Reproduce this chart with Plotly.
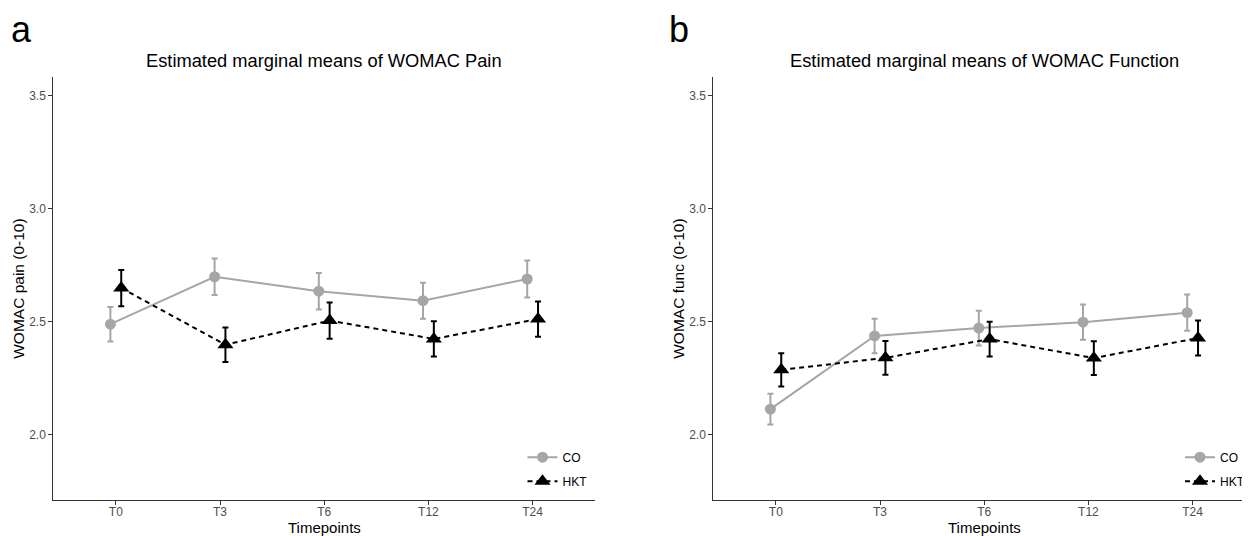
import plotly.graph_objects as go

# ---- data ----
categories = ["T0", "T3", "T6", "T12", "T24"]
groups = ["CO", "HKT"]

pain_co = [2.490, 2.700, 2.636, 2.594, 2.690]
pain_co_se = [0.076, 0.081, 0.081, 0.080, 0.082]
pain_hkt = [2.650, 2.399, 2.506, 2.425, 2.513]
pain_hkt_se = [0.080, 0.076, 0.080, 0.078, 0.078]

func_co = [2.114, 2.438, 2.473, 2.499, 2.541]
func_co_se = [0.068, 0.076, 0.077, 0.078, 0.080]
func_hkt = [2.288, 2.341, 2.424, 2.340, 2.429]
func_hkt_se = [0.074, 0.075, 0.077, 0.075, 0.077]

y_ticks = [2.0, 2.5, 3.0, 3.5]
y_tick_labels = ["2.0", "2.5", "3.0", "3.5"]

panel_titles = ["Estimated marginal means of WOMAC Pain",
                "Estimated marginal means of WOMAC Function"]
y_titles = ["WOMAC pain (0-10)", "WOMAC func (0-10)"]
x_title = "Timepoints"
panel_letters = ["a", "b"]

# ---- styling / geometry (window pixels; page body has an 8px margin) ----
OFF = 8
WIN_W, WIN_H = 1250, 536
W, H = WIN_W - OFF, WIN_H - OFF
FONT = "Liberation Sans, Arial, sans-serif"
GREY = "#A6A6A6"
BLACK = "#000000"
DODGE = 0.052
pos = list(range(1, len(categories) + 1))
px_per_unit = 104.2


def fx(px):
    return (px - OFF) / W


def fy(py):
    return 1 - (py - OFF) / H


fig = go.Figure()


def add_panel(idx, co, co_se, hkt, hkt_se):
    xa = "x" if idx == 0 else "x2"
    ya = "y" if idx == 0 else "y2"
    lg = "legend" if idx == 0 else "legend2"
    fig.add_trace(go.Scatter(
        x=[p - DODGE for p in pos], y=co, mode="lines+markers", name=groups[0],
        xaxis=xa, yaxis=ya, legend=lg, legendgroup=f"co{idx}",
        line=dict(color=GREY, width=2),
        marker=dict(symbol="circle", size=11, color=GREY),
        error_y=dict(type="data", array=co_se, color=GREY, thickness=2, width=3),
        cliponaxis=False,
    ))
    fig.add_trace(go.Scatter(
        x=[p + DODGE for p in pos], y=hkt, mode="lines+markers", name=groups[1],
        xaxis=xa, yaxis=ya, legend=lg, legendgroup=f"hkt{idx}",
        line=dict(color=BLACK, width=2, dash="5px,4px"),
        marker=dict(symbol="triangle-up", size=14, color=BLACK),
        error_y=dict(type="data", array=hkt_se, color=BLACK, thickness=2, width=3),
        cliponaxis=False,
    ))


add_panel(0, pain_co, pain_co_se, pain_hkt, pain_hkt_se)
add_panel(1, func_co, func_co_se, func_hkt, func_hkt_se)

left_x0, left_x1 = 53.3, 53.3 + 5.2 * px_per_unit
right_x0 = 713.3
right_x1_full = right_x0 + 5.2 * px_per_unit
left_dom = [fx(left_x0), fx(left_x1)]
right_dom = [fx(right_x0), 1.0]
y_top, y_bot = 77, 500
y_dom = [fy(y_bot), fy(y_top)]
y_range = [1.712, 3.584]

axis_common = dict(
    showline=True, linecolor="#333333", linewidth=1.1,
    ticks="outside", ticklen=4, tickcolor="#333333", tickwidth=1,
    tickfont=dict(family=FONT, size=12, color="#4D4D4D"),
    showgrid=False, zeroline=False,
)

legend_common = dict(
    yanchor="top",
    bgcolor="rgba(255,255,255,0.55)", font=dict(size=12, family=FONT, color="black"),
    tracegroupgap=5, itemclick=False,
)

fig.update_layout(
    width=W, height=H,
    margin=dict(l=0, r=0, t=0, b=0),
    paper_bgcolor="white", plot_bgcolor="white",
    font=dict(family=FONT, color="black"),
    xaxis=dict(domain=left_dom, range=[0.4, 5.6], tickvals=pos, ticktext=categories,
               anchor="y", ticklabelstandoff=-3, **axis_common),
    xaxis2=dict(domain=right_dom,
                range=[0.4, 0.4 + (WIN_W - right_x0) / px_per_unit],
                tickvals=pos, ticktext=categories, anchor="y2", ticklabelstandoff=-3,
                **axis_common),
    yaxis=dict(domain=y_dom, range=y_range, tickvals=y_ticks, ticktext=y_tick_labels,
               anchor="x", **axis_common),
    yaxis2=dict(domain=y_dom, range=y_range, tickvals=y_ticks, ticktext=y_tick_labels,
                anchor="x2", **axis_common),
    legend=dict(x=fx(522.5), xanchor="left", y=fy(442.7), **legend_common),
    legend2=dict(x=1.0, xanchor="right", y=fy(442.7), **legend_common),
    showlegend=True,
)

# panel titles, axis titles and letters
centers = [(left_x0 + left_x1) / 2, (right_x0 + right_x1_full) / 2]
for i, cx in enumerate(centers):
    fig.add_annotation(text=panel_titles[i], x=fx(cx), y=fy(60), xref="paper", yref="paper",
                       showarrow=False, xanchor="center", yanchor="middle",
                       font=dict(family=FONT, size=18.3, color="black"))
    fig.add_annotation(text=x_title, x=fx(cx), y=fy(527), xref="paper", yref="paper",
                       showarrow=False, xanchor="center", yanchor="middle",
                       font=dict(family=FONT, size=15, color="black"))
for i, x0 in enumerate([left_x0, right_x0]):
    fig.add_annotation(text=y_titles[i], x=fx(x0 - 35), y=fy((y_top + y_bot) / 2),
                       xref="paper", yref="paper", textangle=-90,
                       showarrow=False, xanchor="center", yanchor="middle",
                       font=dict(family=FONT, size=15.5, color="black"))
for i, lx in enumerate([10, 668]):
    fig.add_annotation(text=panel_letters[i], x=fx(lx), y=1.0, xref="paper", yref="paper",
                       showarrow=False, xanchor="left", yanchor="top", borderpad=0,
                       font=dict(family=FONT, size=36, color="black"))

fig.write_html("out.html")
